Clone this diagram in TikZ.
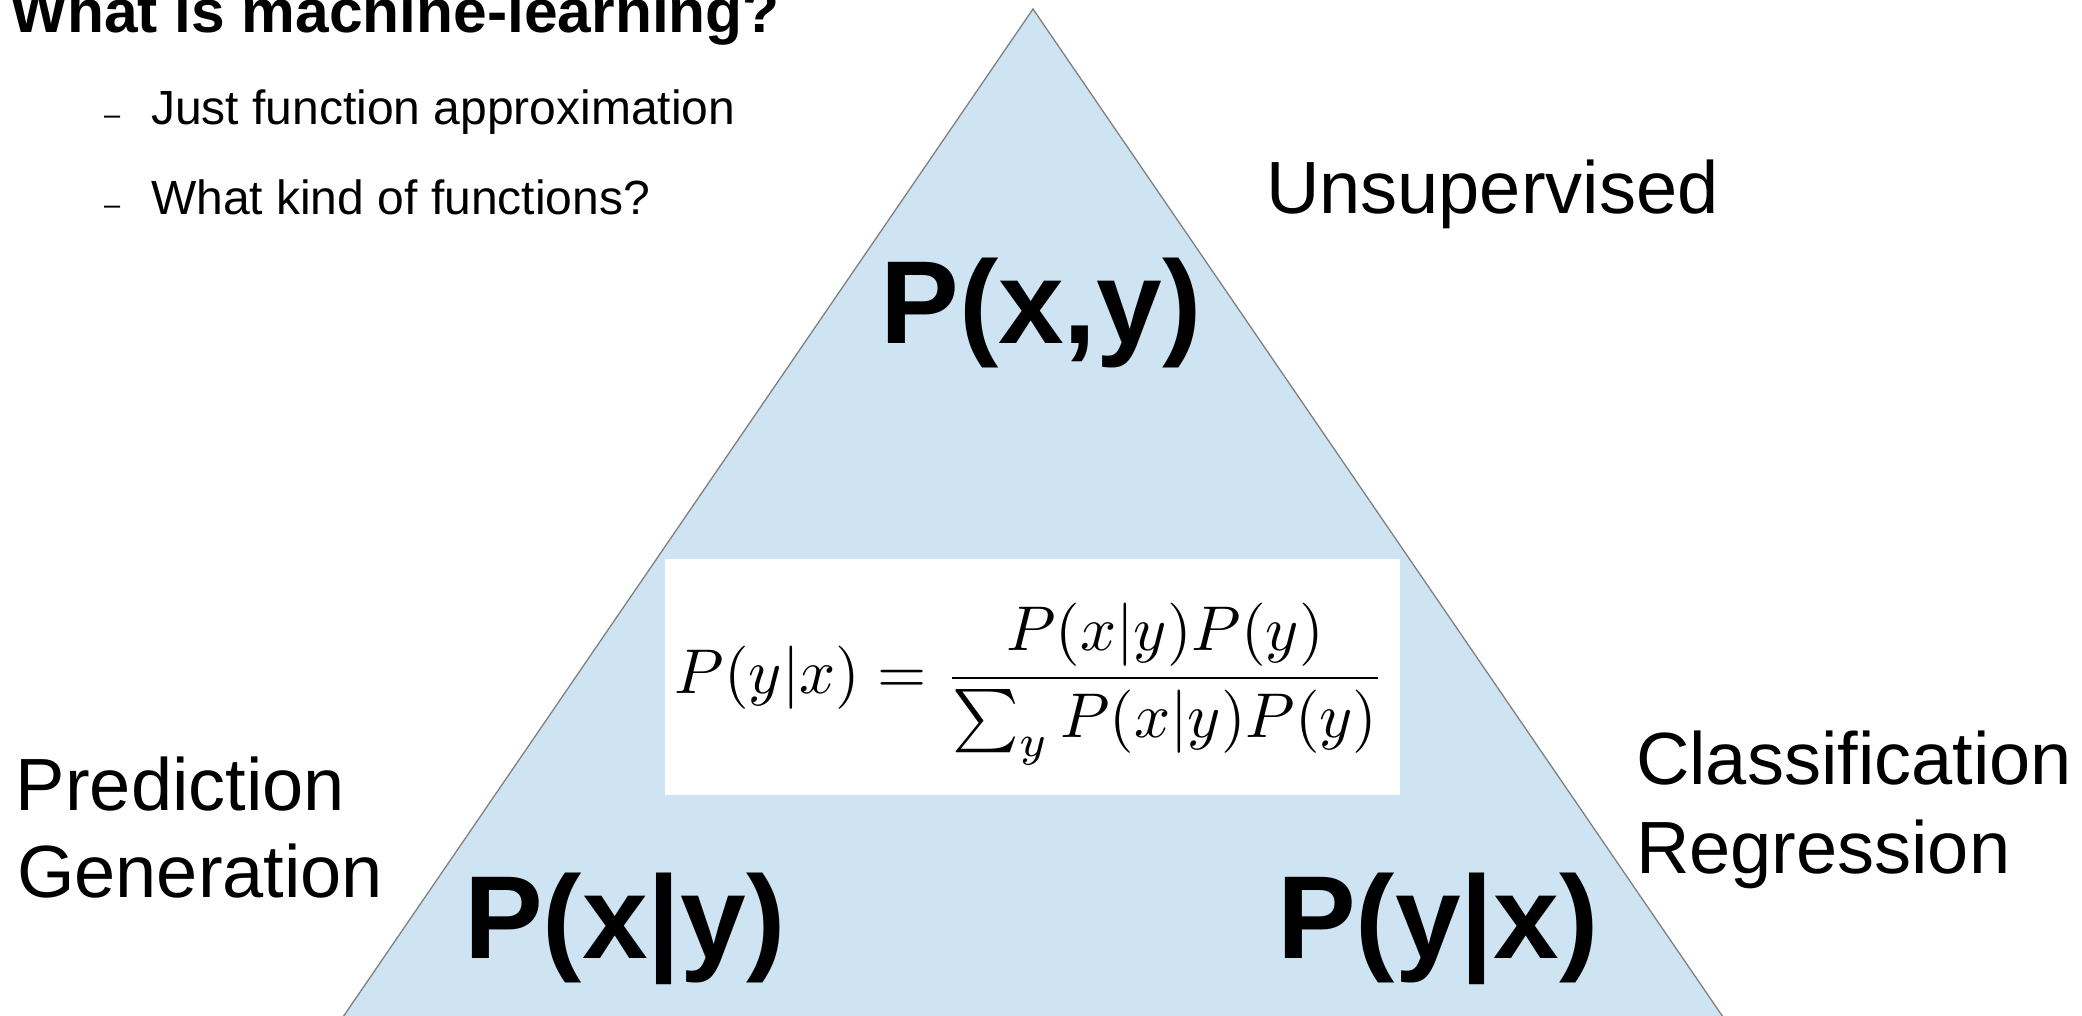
\documentclass[tikz,border=0pt]{standalone}
\usepackage[no-math]{fontspec}
\usepackage{graphicx}
\newfontfamily\arialf{Liberation Sans}
\definecolor{triblue}{RGB}{207,228,242}
\definecolor{trigray}{RGB}{128,128,128}
\tikzset{
  lbl/.style={inner sep=0pt, outer sep=0pt, font=\arialf\fontsize{74}{89}\selectfont, anchor=base west},
  bigp/.style={inner sep=0pt, outer sep=0pt, font=\arialf\bfseries\fontsize{118}{130}\selectfont, anchor=base},
  bullettext/.style={inner sep=0pt, outer sep=0pt, font=\arialf\fontsize{48}{58}\selectfont, anchor=base west},
  bulletdash/.style={inner sep=0pt, outer sep=0pt, font=\arialf\fontsize{29}{35}\selectfont, anchor=base west},
  titletext/.style={inner sep=0pt, outer sep=0pt, font=\arialf\bfseries\fontsize{60.5}{72}\selectfont, anchor=base west},
  tri/.style={fill=triblue, draw=trigray, line width=1.3pt, line join=miter},
  formulabox/.style={fill=white, draw=none, inner sep=0pt, minimum width=735pt, minimum height=236pt},
  formula/.style={inner sep=0pt, outer sep=0pt},
}
\begin{document}
\begin{tikzpicture}[x=1pt,y=-1pt]
  \useasboundingbox (0,0) rectangle (2082,1015);
  \clip (0,0) rectangle (2082,1015);
  \fill[white] (0,0) rectangle (2082,1015);
  % triangle
  \coordinate (apex) at (1033,9);
  \coordinate (bl) at (320.4,1050);
  \coordinate (br) at (1745.6,1050);
  \draw[tri] (apex) -- (br) -- (bl) -- cycle;
  % formula box
  \node[formulabox] (fbox) at (1032.5,676.5) {};
  \node[formula] (bayes) at (1030,684)
    {\resizebox{710pt}{!}{$\displaystyle P(y|x)=\frac{P(x|y)P(y)}{\sum_y P(x|y)P(y)}$}};
  % title and bullets
  \node[titletext] (title) at (10,32) {What is machine-learning?};
  \node[bulletdash] (d1) at (104,124) {–};
  \node[bullettext] (b1) at (151,124) {Just function approximation};
  \node[bulletdash] (d2) at (104,214) {–};
  \node[bullettext] (b2) at (151,214) {What kind of functions?};
  % side labels
  \node[lbl] (unsup) at (1266,213) {Unsupervised};
  \node[lbl] (pred) at (16,810) {Prediction};
  \node[lbl] (gen) at (17,897) {Generation};
  \node[lbl] (cls) at (1636,784) {Classification};
  \node[lbl] (reg) at (1636,873) {Regression};
  % corner distributions
  \node[bigp] (pxy) at (1041,343) {P(x,y)};
  \node[bigp] (pxgy) at (625,958) {P(x|y)};
  \node[bigp] (pygx) at (1438,958) {P(y|x)};
\end{tikzpicture}
\end{document}
